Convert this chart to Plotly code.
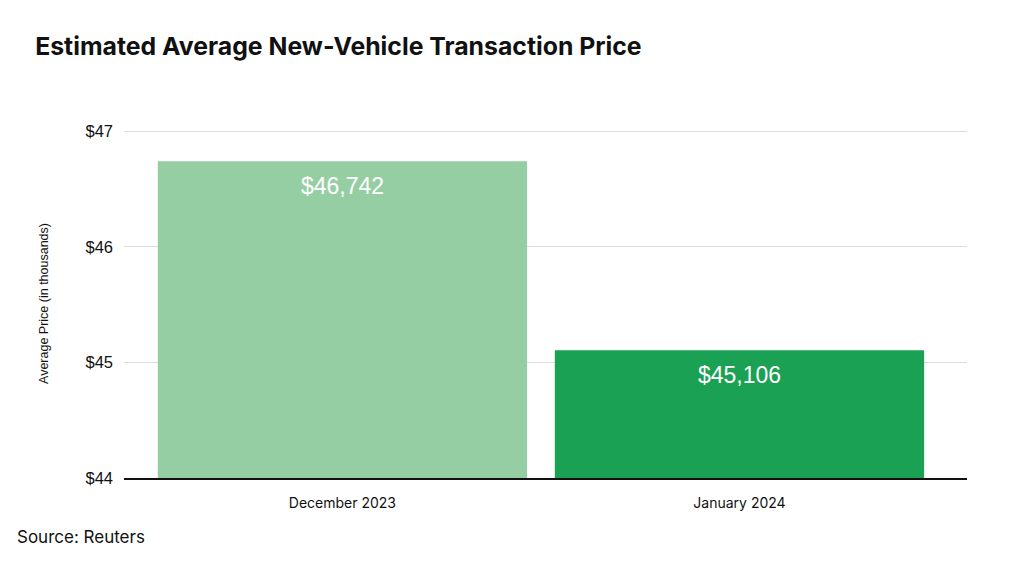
import plotly.graph_objects as go

categories = ["December 2023", "January 2024"]
prices = [46.742, 45.106]
labels = ["$46,742", "$45,106"]
colors = ["#96CEA4", "#1BA154"]
tick_vals = [44, 45, 46, 47]
tick_text = ["$44", "$45", "$46", "$47"]

fig = go.Figure()
fig.add_trace(go.Bar(
    x=categories, y=prices, marker=dict(color=colors, line=dict(width=0)),
    width=0.93, hoverinfo="skip", showlegend=False,
))
for c, v, t in zip(categories, prices, labels):
    fig.add_annotation(x=c, y=v, text=t, showarrow=False, yanchor="middle",
                       yshift=-25, font=dict(family="Liberation Sans", size=23, color="white"))

fig.update_layout(
    width=1024, height=565,
    paper_bgcolor="white", plot_bgcolor="white",
    margin=dict(l=116, r=65, t=121, b=95),
    title=dict(text="<b>Estimated Average New-Vehicle Transaction Price</b>",
               x=0.0265, xanchor="left", y=0.932, yanchor="middle",
               font=dict(family="Inter", size=24.8, color="#111111")),
    font=dict(family="Liberation Sans", color="#111111"),
)
fig.update_xaxes(
    range=[-0.55, 1.573], showgrid=False, ticks="", showline=True,
    linecolor="#111111", linewidth=1.5, ticklabelstandoff=11,
    tickfont=dict(family="Inter", size=14, color="#111111"),
)
fig.update_yaxes(
    range=[44, 47.02], tickvals=tick_vals, ticktext=tick_text,
    showgrid=True, gridcolor="#DDDDDD", gridwidth=1, zeroline=False,
    ticks="", ticklabelstandoff=10,
    tickfont=dict(family="Liberation Sans", size=16.5, color="#111111"),
    title=dict(text="Average Price (in thousands)", standoff=34,
               font=dict(family="Liberation Sans", size=12.5, color="#111111")),
)
fig.add_annotation(text="Source: Reuters", xref="paper", yref="paper",
                   x=-0.129, y=-0.170, xanchor="left", yanchor="middle", showarrow=False,
                   font=dict(family="Inter", size=17, color="#111111"))

fig.write_html("out.html")
